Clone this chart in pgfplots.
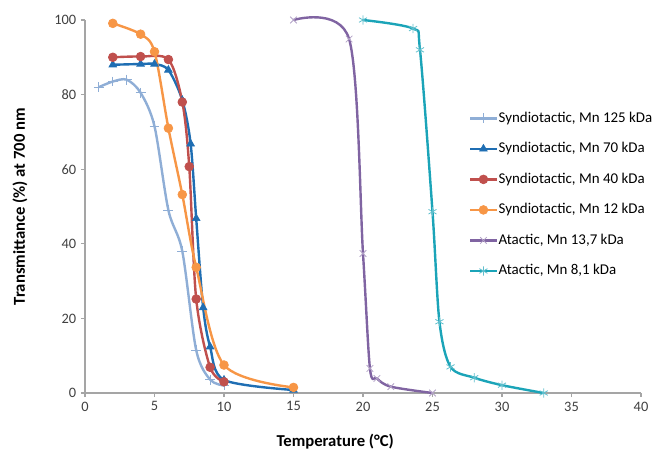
\documentclass[border=0pt]{standalone}
\usepackage{pgfplots}
\pgfplotsset{compat=1.18}
\usepackage{fontspec}
\setmainfont{Carlito}

\definecolor{lblue}{RGB}{143,174,214}
\definecolor{dblue}{RGB}{31,110,179}
\definecolor{sred}{RGB}{192,80,77}
\definecolor{sorange}{RGB}{247,150,70}
\definecolor{spurple}{RGB}{128,100,162}
\definecolor{steal}{RGB}{27,164,184}
\definecolor{axgray}{RGB}{165,165,165}
\definecolor{txtgray}{RGB}{64,64,64}

\begin{document}
\begin{tikzpicture}
\begin{axis}[
  name=ax,
  scale only axis,
  width=417pt, height=279.75pt,
  xmin=0, xmax=40, ymin=0, ymax=100,
  xtick={0,5,...,40}, ytick={0,20,...,100},
  axis x line*=bottom, axis y line*=left,
  axis line style={axgray, line width=0.8pt},
  tick style={axgray, line width=0.8pt},
  tick align=outside, major tick length=3pt,
  tick label style={font=\fontsize{10.8}{12}\selectfont, text=txtgray},
  /pgf/number format/assume math mode=true,
  clip=false,
  xlabel={\textbf{Temperature (°C)}},
  ylabel={\textbf{Transmittance (\%) at 700 nm}},
  xlabel style={at={(axis description cs:0.45,-0.131)}, anchor=center, font=\fontsize{12.5}{14}\selectfont},
  ylabel style={at={(axis description cs:-0.117,0.5)}, anchor=center, font=\fontsize{12.5}{14}\selectfont},
  every axis plot/.append style={smooth, tension=0.5, line width=1.8pt},
  legend image code/.code={\draw[mark repeat=2,mark phase=2] plot coordinates {(0pt,0pt) (10pt,0pt) (20pt,0pt)};},
  legend style={draw=none, fill=none, inner sep=0pt, at={(axis cs:27.6,75.5)}, anchor=north west,
    row sep=12.9pt, font=\fontsize{11.2}{13}\selectfont,
    nodes={inner sep=0pt, inner xsep=0.5pt, text height=8pt, text depth=2pt}},
  legend cell align=left,
]
\addplot[color=lblue, mark=+, mark size=3.7pt, mark options={line width=0.7pt}] coordinates {
  (1,82) (2,83.5) (3,84) (4,80.5) (5,71.5) (6,49) (7,38) (8,11.5) (9,3.6) (10,2)
};
\addlegendentry{Syndiotactic, Mn 125 kDa}
\addplot[color=dblue, mark=triangle*, mark size=3.3pt, mark options={line width=0.5pt}] coordinates {
  (2,88) (4,88.2) (5,88.2) (6,86.6) (7,78.5) (7.6,66.8) (8,46.8) (8.5,22.9) (9,12.4) (10,3.5) (15,0.8)
};
\addlegendentry{Syndiotactic, Mn 70 kDa}
\addplot[color=sred, mark=*, mark size=3.3pt, mark options={line width=0.5pt}] coordinates {
  (2,90) (4,90.2) (6,89.4) (7,78) (7.5,60.7) (8,25.2) (9,6.9) (10,3)
};
\addlegendentry{Syndiotactic, Mn 40 kDa}
\addplot[color=sorange, mark=*, mark size=3.3pt, mark options={line width=0.5pt}] coordinates {
  (2,99.1) (4,96.2) (5,91.5) (6,71) (7,53.2) (8,33.7) (10,7.5) (15,1.5)
};
\addlegendentry{Syndiotactic, Mn 12 kDa}
\addplot[color=spurple, mark=x, mark size=3.5pt, mark options={line width=0.6pt, color=spurple!60}] coordinates {
  (15,100) (19,94.9) (20,37.4) (20.5,6.6) (21,3.9) (22,1.7) (25,0)
};
\addlegendentry{Atactic, Mn 13,7 kDa}
\addplot[color=steal, mark=asterisk, mark size=3.5pt, mark options={line width=0.6pt, color=steal!70}] coordinates {
  (20,100) (23.6,97.7) (24.1,92) (25,48.6) (25.5,19.1) (26.3,7) (28,4.1) (30,2.1) (33,0)
};
\addlegendentry{Atactic, Mn 8,1 kDa}
\end{axis}
\pgfresetboundingbox
\path (ax.south west) ++(-63.75pt,-43.5pt) rectangle ++(490.5pt,338.25pt);
\end{tikzpicture}
\end{document}
